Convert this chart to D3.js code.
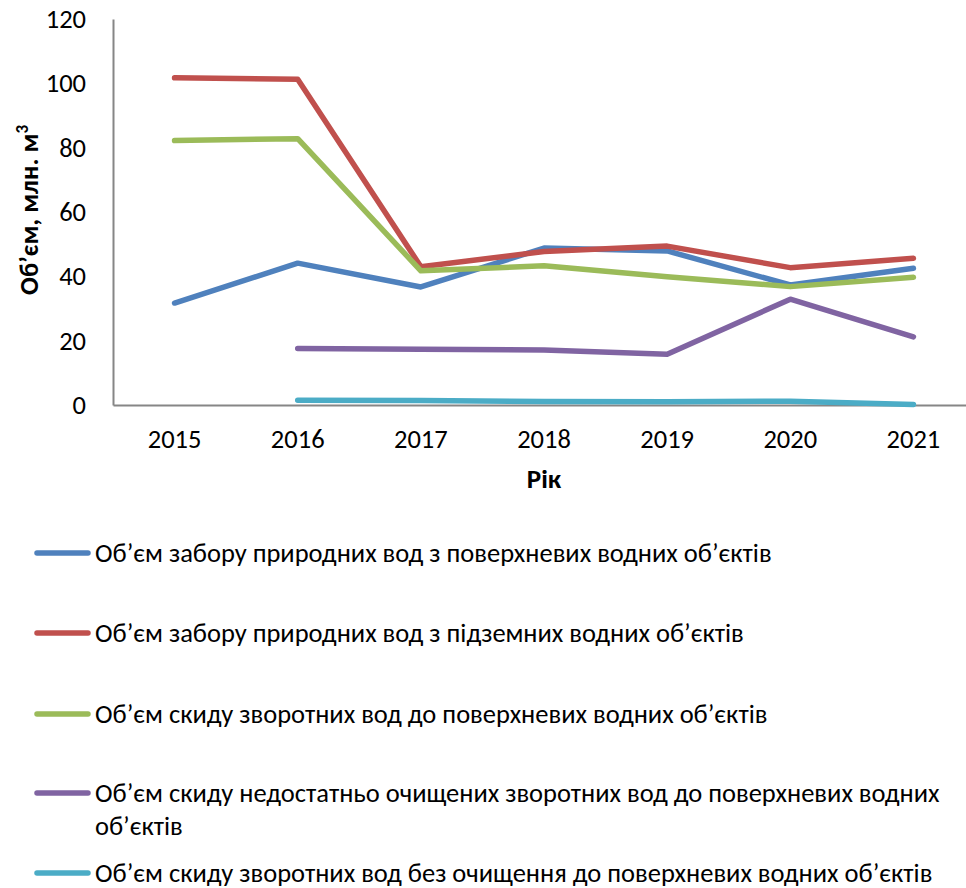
<!DOCTYPE html>
<html>
<head>
<meta charset="utf-8">
<script src="https://cdn.jsdelivr.net/npm/d3@7"></script>
<style>
  body { margin: 0; background: #fff; }
  svg { font-family: Calibri, Carlito, "Open Sans", sans-serif; }
</style>
</head>
<body>
<svg id="chart" width="966" height="888"></svg>
<script>
const years = ["2015", "2016", "2017", "2018", "2019", "2020", "2021"];
const yTicks = [0, 20, 40, 60, 80, 100, 120];

// null = no value for that year
const surfaceIntake = [31.7, 44.1, 36.7, 48.8, 47.9, 37.3, 42.5];
const groundIntake = [101.7, 101.3, 43.0, 47.7, 49.4, 42.7, 45.6];
const surfaceDischarge = [82.2, 82.8, 41.7, 43.3, 39.9, 36.8, 39.7];
const poorlyTreated = [null, 17.6, 17.3, 17.1, 15.8, 32.9, 21.2];
const untreated = [null, 1.5, 1.4, 1.1, 1.0, 1.2, 0.15];

const seriesNames = [
  ["Об’єм забору природних вод з поверхневих водних об’єктів"],
  ["Об’єм забору природних вод з підземних водних об’єктів"],
  ["Об’єм скиду зворотних вод до поверхневих водних об’єктів"],
  ["Об’єм скиду недостатньо очищених зворотних вод до поверхневих водних", "об’єктів"],
  ["Об’єм скиду зворотних вод без очищення до поверхневих водних об’єктів"]
];
const colors = ["#4F81BD", "#C0504D", "#9BBB59", "#8064A2", "#4BACC6"];
const allSeries = [surfaceIntake, groundIntake, surfaceDischarge, poorlyTreated, untreated];

let svg = d3.select("#chart")
let margin = { top: 19, left: 113 }
let plotRight = 975, plotBottom = 405

let xScale = d3.scaleBand().domain(years).range([margin.left, plotRight])
let yScale = d3.scaleLinear().domain([0, 120]).range([plotBottom, margin.top])

// axes
let axisY = d3.axisLeft(yScale).tickValues(yTicks).tickSize(0).tickPadding(27)
let gy = svg.append("g").attr("transform", `translate(${margin.left},0)`).call(axisY)
gy.select(".domain").attr("stroke", "#868686").attr("stroke-width", 2)
gy.selectAll("text").attr("font-size", 26.5).attr("fill", "#000")

let axisX = d3.axisBottom(xScale).tickSize(0).tickPadding(24)
let gx = svg.append("g").attr("transform", `translate(0,${plotBottom})`).call(axisX)
gx.select(".domain").attr("stroke", "#868686").attr("stroke-width", 2)
gx.selectAll("text").attr("font-size", 26.5).attr("fill", "#000")
gy.attr("font-family", null); gx.attr("font-family", null)

// axis titles
svg.append("text")
  .attr("x", xScale("2018") + xScale.bandwidth() / 2)
  .attr("y", 488)
  .attr("text-anchor", "middle")
  .attr("font-size", 27).attr("font-weight", "bold")
  .text("Рік")

let yTitle = svg.append("text")
  .attr("transform", "translate(38,210) rotate(-90)")
  .attr("text-anchor", "middle")
  .attr("font-size", 26.5).attr("font-weight", "bold")
yTitle.append("tspan").text("Об’єм, млн. м")
yTitle.append("tspan").attr("font-size", 17).attr("dy", -10).text("3")

// lines
let line = d3.line()
  .defined(d => d != null)
  .x((d, i) => xScale(years[i]) + xScale.bandwidth() / 2)
  .y(d => yScale(d))

svg.selectAll(".series")
  .data(allSeries)
  .enter().append("path")
  .attr("class", "series")
  .attr("d", d => line(d))
  .attr("fill", "none")
  .attr("stroke", (d, i) => colors[i])
  .attr("stroke-width", 5.5)
  .attr("stroke-linecap", "round")
  .attr("stroke-linejoin", "round")

// legend
let legendY = [553, 633, 714, 793, 873]
let legend = svg.selectAll(".legend")
  .data(seriesNames)
  .enter().append("g")
  .attr("class", "legend")
  .attr("transform", (d, i) => `translate(0,${legendY[i]})`)

legend.append("line")
  .attr("x1", 37).attr("x2", 88)
  .attr("stroke", (d, i) => colors[i])
  .attr("stroke-width", 5.5)
  .attr("stroke-linecap", "round")

legend.each(function (lines) {
  let t = d3.select(this).append("text")
    .attr("x", 95).attr("y", 9)
    .attr("font-size", 26.5)
  lines.forEach((s, k) => {
    t.append("tspan").attr("x", 95).attr("dy", k ? 33 : 0).text(s)
  })
})
</script>
</body>
</html>
